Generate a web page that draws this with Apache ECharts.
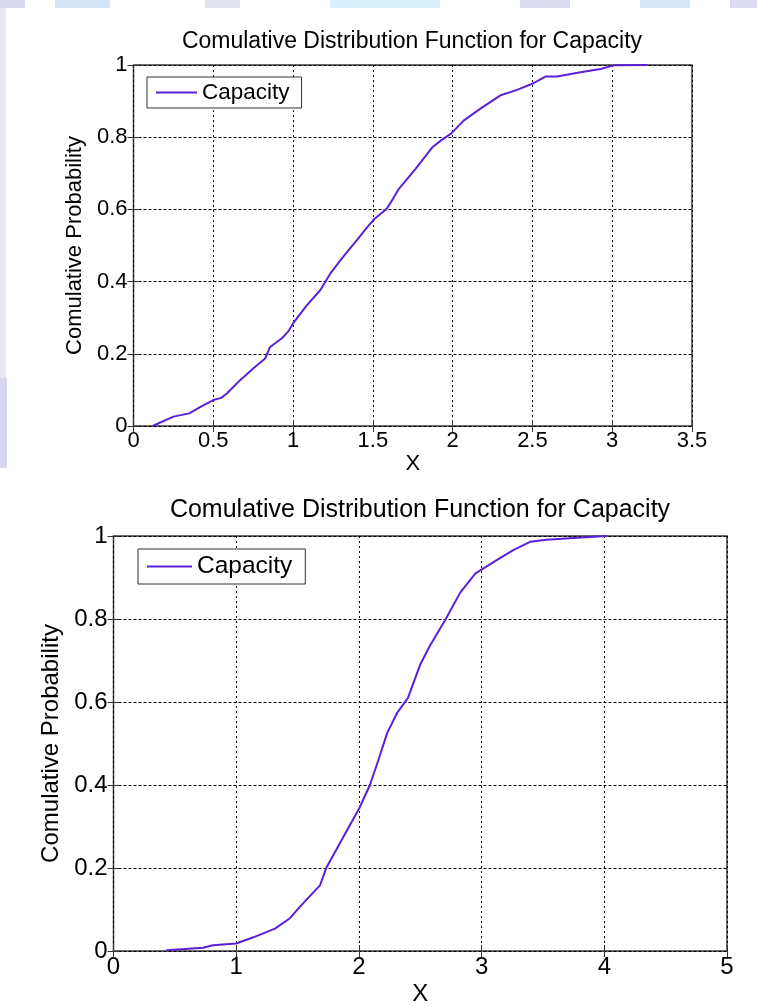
<!DOCTYPE html>
<html>
<head>
<meta charset="utf-8">
<title>Comulative Distribution Function for Capacity</title>
<script src="https://cdn.jsdelivr.net/npm/echarts@6/dist/echarts.min.js"></script>
<style>
  html, body { margin: 0; padding: 0; background: #ffffff; }
  #chart { width: 757px; height: 1007px; }
</style>
</head>
<body>
<div id="chart"></div>
<script>
// Empirical CDF of capacity, first sample set (x, cumulative probability)
const capacityX1 = [0.12, 0.25, 0.35, 0.42, 0.50, 0.55, 0.585, 0.668, 0.752, 0.825, 0.856, 0.93, 0.97, 1.00, 1.087, 1.17, 1.233, 1.296, 1.348, 1.40, 1.465, 1.511, 1.587, 1.63, 1.663, 1.769, 1.875, 1.93, 1.99, 2.069, 2.174, 2.30, 2.404, 2.498, 2.582, 2.655, 2.801, 2.927, 3.01, 3.22];
const capacityP1 = [0.0, 0.026, 0.035, 0.053, 0.072, 0.078, 0.09, 0.127, 0.16, 0.187, 0.219, 0.243, 0.262, 0.284, 0.335, 0.376, 0.422, 0.459, 0.487, 0.515, 0.551, 0.574, 0.602, 0.632, 0.657, 0.713, 0.773, 0.792, 0.81, 0.846, 0.879, 0.916, 0.931, 0.948, 0.968, 0.968, 0.98, 0.989, 0.999, 1.0];

// Empirical CDF of capacity, second sample set
const capacityX2 = [0.43, 0.73, 0.81, 1.00, 1.14, 1.316, 1.438, 1.52, 1.683, 1.737, 1.819, 1.90, 2.003, 2.09, 2.17, 2.23, 2.31, 2.40, 2.498, 2.58, 2.716, 2.824, 2.95, 3.123, 3.258, 3.395, 3.53, 3.747, 4.02];
const capacityP2 = [0.002, 0.008, 0.014, 0.018, 0.033, 0.054, 0.079, 0.107, 0.158, 0.202, 0.246, 0.289, 0.344, 0.40, 0.47, 0.525, 0.573, 0.61, 0.689, 0.736, 0.804, 0.863, 0.91, 0.942, 0.966, 0.986, 0.991, 0.995, 1.0];

const titleText = 'Comulative Distribution Function for Capacity';
const seriesName = 'Capacity';
const xName = 'X';
const yName = 'Comulative Probability';

const FONT = "'Liberation Sans', Arial, Helvetica, sans-serif";
const LINE_COLOR = '#5a22d8';
const TICK = { show: true, inside: true, length: 6, lineStyle: { color: '#333' } };

function pairs(xs, ys) {
  return xs.map((x, i) => [x, ys[i]]);
}

function xAxisFor(gridIndex, max, interval, fontSize, nameGap) {
  return {
    type: 'value', gridIndex, position: 'bottom', min: 0, max, interval,
    name: xName, nameLocation: 'middle', nameGap,
    nameTextStyle: { color: '#000', fontSize, fontFamily: FONT },
    axisLine: { show: false },
    axisTick: TICK,
    axisLabel: { color: '#000', fontSize, fontFamily: FONT, margin: 4 },
    splitLine: { show: true, lineStyle: { color: '#000', width: 1, type: [2, 3] } }
  };
}

// tick marks along the upper edge of the box
function xTopFor(gridIndex, max, interval) {
  return {
    type: 'value', gridIndex, position: 'top', min: 0, max, interval,
    axisLine: { show: false }, axisTick: TICK,
    axisLabel: { show: false }, splitLine: { show: false }
  };
}

function yAxisFor(gridIndex, fontSize, nameGap) {
  return {
    type: 'value', gridIndex, position: 'left', min: 0, max: 1, interval: 0.2,
    name: yName, nameLocation: 'middle', nameGap, nameRotate: 90,
    nameTextStyle: { color: '#000', fontSize, fontFamily: FONT },
    axisLine: { show: false },
    axisTick: TICK,
    axisLabel: { color: '#000', fontSize, fontFamily: FONT, margin: 6 },
    splitLine: { show: true, lineStyle: { color: '#000', width: 1, type: [3, 2] } }
  };
}

// tick marks along the right edge of the box
function yRightFor(gridIndex) {
  return {
    type: 'value', gridIndex, position: 'right', min: 0, max: 1, interval: 0.2,
    axisLine: { show: false }, axisTick: TICK,
    axisLabel: { show: false }, splitLine: { show: false }
  };
}

function seriesFor(index, data) {
  return {
    name: seriesName, type: 'line', xAxisIndex: index, yAxisIndex: index,
    data, symbol: 'none', showSymbol: false, smooth: false,
    lineStyle: { color: LINE_COLOR, width: 2 },
    itemStyle: { color: LINE_COLOR },
    animation: false
  };
}

function legendFor(left, top, padding, itemWidth, fontSize) {
  return {
    data: [seriesName], left, top, orient: 'vertical',
    icon: 'rect', itemWidth, itemHeight: 2, itemGap: 0, padding,
    itemStyle: { color: LINE_COLOR },
    backgroundColor: '#fff', borderColor: '#333', borderWidth: 1, borderRadius: 0,
    textStyle: { color: '#000', fontSize, fontFamily: FONT },
    selectedMode: false
  };
}

// faint slide backdrop along the upper and left edges
const backdrop = [
  [0, 0, 25, 8, '#d9d9f0'], [55, 0, 55, 8, '#d3e4f6'], [205, 0, 35, 8, '#e2e2ee'],
  [330, 0, 110, 8, '#d8f1fb'], [520, 0, 50, 8, '#dcdcf0'], [640, 0, 50, 8, '#d6e6f6'],
  [730, 0, 27, 8, '#dcdcf0'], [0, 8, 6, 370, '#e6e6f5'], [0, 378, 7, 90, '#d6d6f0']
].map(([x, y, w, h, c]) => ({
  type: 'rect', z: -10, silent: true,
  shape: { x, y, width: w, height: h }, style: { fill: c }
}));

const chart = echarts.init(document.getElementById('chart'), null, { renderer: 'canvas' });

chart.setOption({
  backgroundColor: '#ffffff',
  animation: false,
  graphic: backdrop,
  title: [
    { text: titleText, left: 412, top: 30, textAlign: 'center', padding: 0,
      textStyle: { color: '#000', fontSize: 23, fontWeight: 'normal', fontFamily: FONT } },
    { text: titleText, left: 420, top: 498, textAlign: 'center', padding: 0,
      textStyle: { color: '#000', fontSize: 25, fontWeight: 'normal', fontFamily: FONT } }
  ],
  legend: [
    legendFor(147, 77, [4, 12, 4, 9], 41, 22.5),
    legendFor(138, 549, [5, 13, 5, 9], 45, 24.5)
  ],
  grid: [
    { left: 133.5, top: 65, width: 558.5, height: 361,
      show: true, borderColor: '#3a3a3a', borderWidth: 1.5, backgroundColor: '#fff' },
    { left: 113.5, top: 536, width: 613.5, height: 421,
      show: true, borderColor: '#3a3a3a', borderWidth: 1.5, backgroundColor: '#fff' }
  ],
  xAxis: [
    xAxisFor(0, 3.5, 0.5, 22, 26),
    xAxisFor(1, 5, 1, 24, 31),
    xTopFor(0, 3.5, 0.5),
    xTopFor(1, 5, 1)
  ],
  yAxis: [
    yAxisFor(0, 22, 44),
    yAxisFor(1, 24, 48),
    yRightFor(0),
    yRightFor(1)
  ],
  series: [
    seriesFor(0, pairs(capacityX1, capacityP1)),
    seriesFor(1, pairs(capacityX2, capacityP2))
  ]
});
</script>
</body>
</html>
